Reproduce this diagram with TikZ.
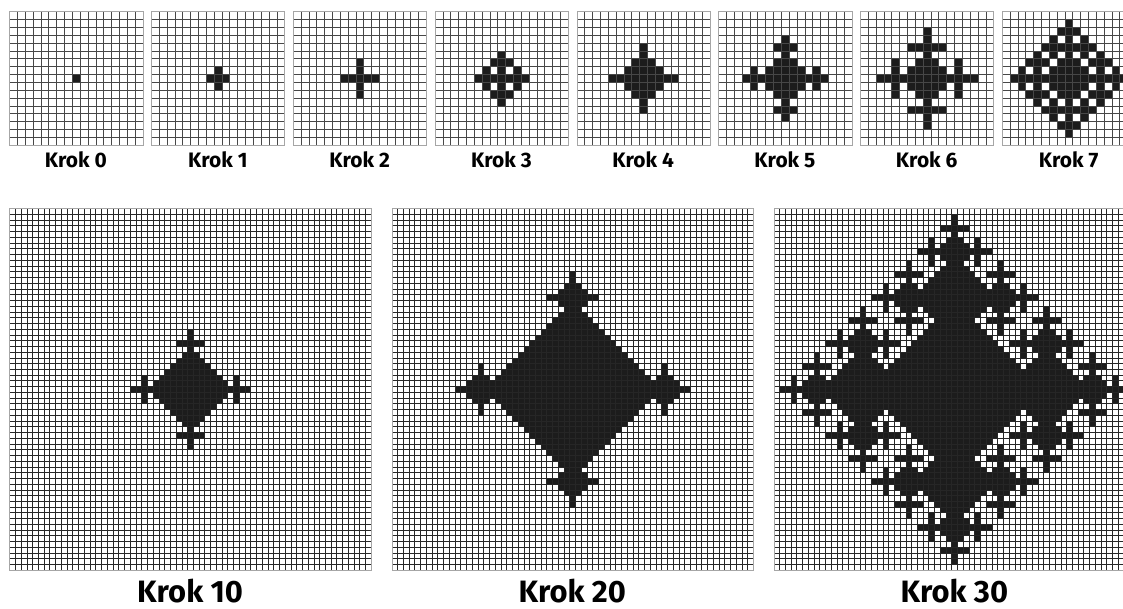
\documentclass[tikz,border=0pt]{standalone}
\usepackage{fontspec}
\setmainfont{Fira Sans}
% ---------- cellular automaton: birth with exactly 1 or 4 live von Neumann neighbours, no deaths
\newcount\cat \newcount\cax \newcount\cay \newcount\can \newcount\car \newcount\cak \newcount\cah
\def\caborn#1#2{\expandafter\xdef\csname ca:#1:#2\endcsname{\the\cat}}
\def\caaddbirth{\xdef\cabirths{\unexpanded\expandafter{\cabirths}\noexpand\caborn{\the\cax}{\the\cay}}}
\def\cacell{%
  \ifcsname ca:\the\cax:\the\cay\endcsname\else
    \can=0
    \ifcsname ca:\the\numexpr\cax+1\relax:\the\cay\endcsname\advance\can by 1 \fi
    \ifcsname ca:\the\numexpr\cax-1\relax:\the\cay\endcsname\advance\can by 1 \fi
    \ifcsname ca:\the\cax:\the\numexpr\cay+1\relax\endcsname\advance\can by 1 \fi
    \ifcsname ca:\the\cax:\the\numexpr\cay-1\relax\endcsname\advance\can by 1 \fi
    \ifnum\can=1 \caaddbirth\fi
    \ifnum\can=4 \caaddbirth\fi
  \fi}
\def\caloopx{\ifnum\cax>\car\else\cacell\advance\cax by 1 \expandafter\caloopx\fi}
\def\caloopy{\ifnum\cay>\cat\else
  \car=\cat \ifnum\cay<0 \advance\car by \cay \else \advance\car by -\cay \fi
  \cax=-\car \caloopx
  \advance\cay by 1 \expandafter\caloopy\fi}
\def\castep{\ifnum\cat>30 \else
  \gdef\cabirths{}\cay=-\cat\relax\caloopy\cabirths
  \advance\cat by 1 \expandafter\castep\fi}
\expandafter\xdef\csname ca:0:0\endcsname{0}
\cat=1 \castep
% ---------- drawing of the live cells of step k (cell edges snapped to whole pixels)
\def\cadloopx{\ifnum\cax>\car\else
  \ifcsname ca:\the\cax:\the\cay\endcsname
    \ifnum\csname ca:\the\cax:\the\cay\endcsname>\cak\else
      \xdef\carow{\unexpanded\expandafter{\carow}%
        (\csname cx:\the\numexpr\cax+\cah\relax\endcsname,\csname cy:\the\numexpr\cay+\cah\relax\endcsname)
        rectangle
        (\csname cx:\the\numexpr\cax+\cah+1\relax\endcsname,\csname cy:\the\numexpr\cay+\cah+1\relax\endcsname) }%
    \fi
  \fi
  \advance\cax by 1 \expandafter\cadloopx\fi}
\def\cadloopy{\ifnum\cay>\cak\else
  \car=\cak \ifnum\cay<0 \advance\car by \cay \else \advance\car by -\cay \fi
  \cax=-\car \gdef\carow{}\cadloopx
  \ifx\carow\empty\else\edef\caexec{\noexpand\fill[cellfill]\unexpanded\expandafter{\carow};}\caexec\fi
  \advance\cay by 1 \expandafter\cadloopy\fi}
\def\cacollect#1#2{\cak=#1\relax \cah=#2\relax \cay=-\cak \cadloopy}
\definecolor{cafill}{RGB}{28,28,28}
\tikzset{
  cellfill/.style={fill=cafill},
  gridborder/.style={draw=black!35},
  smalllabel/.style={font=\bfseries\fontsize{21}{22}\selectfont, anchor=base, inner sep=0pt},
  biglabel/.style={font=\bfseries\fontsize{31}{33}\selectfont, anchor=base, inner sep=0pt}
}
% #1 ox, #2 bottom y, #3 cells, #4 step, #5 cell size, #6 line width, #7 line colour
\newcommand\capanel[7]{%
  \foreach \cai in {0,...,#3}{%
    \pgfmathsetmacro\catmp{round(#1+\cai*#5)+0.5}%
    \expandafter\xdef\csname cx:\cai\endcsname{\catmp}%
    \pgfmathsetmacro\catmp{round(#2+\cai*#5)+0.5}%
    \expandafter\xdef\csname cy:\cai\endcsname{\catmp}}%
  \cacollect{#4}{\numexpr(#3-1)/2\relax}%
  \foreach \cai in {0,...,#3}{%
    \edef\caexec{\noexpand\draw[line width=#6bp, draw=#7]
      (\csname cx:\cai\endcsname,\csname cy:0\endcsname) -- (\csname cx:\cai\endcsname,\csname cy:#3\endcsname)
      (\csname cx:0\endcsname,\csname cy:\cai\endcsname) -- (\csname cx:#3\endcsname,\csname cy:\cai\endcsname);}%
    \caexec}%
  \edef\caexec{\noexpand\draw[gridborder, line width=#6bp]
    (\csname cx:0\endcsname,\csname cy:0\endcsname) rectangle (\csname cx:#3\endcsname,\csname cy:#3\endcsname);}%
  \caexec}
\begin{document}
\begin{tikzpicture}[x=1bp,y=1bp]
\useasboundingbox (0,0) rectangle (1123,609);
\fill[white] (0,0) rectangle (1123,609);
\clip (0,0) rectangle (1123,609);
% small panels
\capanel{9.3}{463.3}{17}{0}{7.84}{1}{black!72}
\capanel{151.1}{463.3}{17}{1}{7.84}{1}{black!72}
\capanel{292.9}{463.3}{17}{2}{7.84}{1}{black!72}
\capanel{434.7}{463.3}{17}{3}{7.84}{1}{black!72}
\capanel{576.5}{463.3}{17}{4}{7.84}{1}{black!72}
\capanel{718.3}{463.3}{17}{5}{7.84}{1}{black!72}
\capanel{860.1}{463.3}{17}{6}{7.84}{1}{black!72}
\capanel{1001.9}{463.3}{17}{7}{7.84}{1}{black!72}
\node[smalllabel] (l0) at (75.95,441.3) {Krok 0};
\node[smalllabel] (l1) at (217.75,441.3) {Krok 1};
\node[smalllabel] (l2) at (359.55,441.3) {Krok 2};
\node[smalllabel] (l3) at (501.35,441.3) {Krok 3};
\node[smalllabel] (l4) at (643.15,441.3) {Krok 4};
\node[smalllabel] (l5) at (784.95,441.3) {Krok 5};
\node[smalllabel] (l6) at (926.75,441.3) {Krok 6};
\node[smalllabel] (l7) at (1068.55,441.3) {Krok 7};
% big panels
\capanel{9.3}{38.1}{63}{10}{5.74}{1}{black!85}
\capanel{391.5}{38.1}{63}{20}{5.74}{1}{black!85}
\capanel{773.5}{38.1}{63}{30}{5.74}{1}{black!85}
\node[biglabel] (l10) at (190.1,6) {Krok 10};
\node[biglabel] (l20) at (572.3,6) {Krok 20};
\node[biglabel] (l30) at (954.3,6) {Krok 30};
\end{tikzpicture}
\end{document}
